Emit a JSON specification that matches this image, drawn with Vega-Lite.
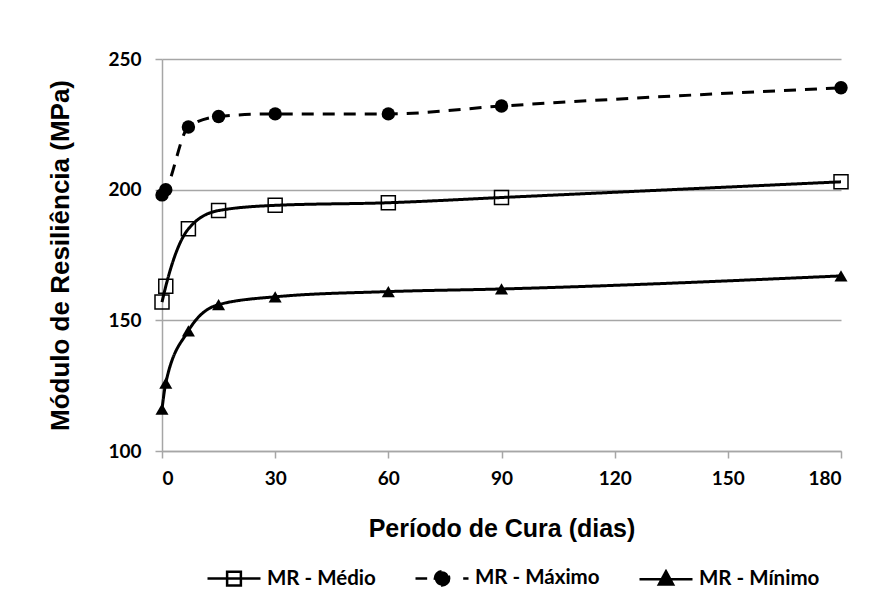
{
  "$schema": "https://vega.github.io/schema/vega-lite/v6.json",
  "width": 679,
  "height": 392,
  "autosize": {"type": "none"},
  "padding": {"left": 162, "top": 59, "right": 29, "bottom": 160},
  "background": "white",
  "config": {"view": {"stroke": null}},
  "data": {
    "values": [
      {"serie": "MR - Médio", "dias": 0, "mr": 157},
      {"serie": "MR - Médio", "dias": 1, "mr": 163},
      {"serie": "MR - Médio", "dias": 7, "mr": 185},
      {"serie": "MR - Médio", "dias": 15, "mr": 192},
      {"serie": "MR - Médio", "dias": 30, "mr": 194},
      {"serie": "MR - Médio", "dias": 60, "mr": 195},
      {"serie": "MR - Médio", "dias": 90, "mr": 197},
      {"serie": "MR - Médio", "dias": 180, "mr": 203},
      {"serie": "MR - Máximo", "dias": 0, "mr": 198},
      {"serie": "MR - Máximo", "dias": 1, "mr": 200},
      {"serie": "MR - Máximo", "dias": 7, "mr": 224},
      {"serie": "MR - Máximo", "dias": 15, "mr": 228},
      {"serie": "MR - Máximo", "dias": 30, "mr": 229},
      {"serie": "MR - Máximo", "dias": 60, "mr": 229},
      {"serie": "MR - Máximo", "dias": 90, "mr": 232},
      {"serie": "MR - Máximo", "dias": 180, "mr": 239},
      {"serie": "MR - Mínimo", "dias": 0, "mr": 116},
      {"serie": "MR - Mínimo", "dias": 1, "mr": 126},
      {"serie": "MR - Mínimo", "dias": 7, "mr": 146},
      {"serie": "MR - Mínimo", "dias": 15, "mr": 156},
      {"serie": "MR - Mínimo", "dias": 30, "mr": 159},
      {"serie": "MR - Mínimo", "dias": 60, "mr": 161},
      {"serie": "MR - Mínimo", "dias": 90, "mr": 162},
      {"serie": "MR - Mínimo", "dias": 180, "mr": 167}
    ]
  },
  "encoding": {
    "x": {
      "field": "dias", "type": "quantitative",
      "scale": {"domain": [0, 180], "nice": false, "zero": false},
      "axis": {
        "title": "Período de Cura (dias)",
        "values": [0, 30, 60, 90, 120, 150, 180],
        "grid": false,
        "domainColor": "#a6a6a6", "domainWidth": 1.5,
        "tickColor": "#a6a6a6", "tickWidth": 1.5, "tickSize": 7,
        "labelFont": "Lato", "labelFontSize": 19, "labelFontWeight": "bold", "labelColor": "black",
        "labelPadding": 11,
        "titleFont": "Liberation Sans", "titleFontSize": 25, "titleFontWeight": "bold", "titleColor": "black",
        "titlePadding": 28
      }
    },
    "y": {
      "field": "mr", "type": "quantitative",
      "scale": {"domain": [100, 250], "nice": false, "zero": false},
      "axis": {
        "title": "Módulo de Resiliência (MPa)",
        "values": [100, 150, 200, 250],
        "grid": true, "gridColor": "#a6a6a6", "gridWidth": 1.5,
        "domainColor": "#a6a6a6", "domainWidth": 1.5,
        "tickColor": "#a6a6a6", "tickWidth": 1.5, "tickSize": 7,
        "labelFont": "Lato", "labelFontSize": 19, "labelFontWeight": "bold", "labelColor": "black",
        "labelPadding": 14,
        "titleFont": "Liberation Sans", "titleFontSize": 26, "titleFontWeight": "bold", "titleColor": "black",
        "titlePadding": 34
      }
    }
  },
  "layer": [
    {
      "mark": {"type": "line", "interpolate": "monotone", "strokeWidth": 3},
      "encoding": {
        "color": {
          "field": "serie",
          "scale": {"domain": ["MR - Médio", "MR - Máximo", "MR - Mínimo"], "range": ["black", "black", "black"]},
          "legend": {
            "title": null,
            "orient": "bottom",
            "direction": "horizontal",
            "padding": 44,
            "offset": -35,
            "symbolSize": 2809,
            "symbolStrokeWidth": 2.5,
            "symbolStrokeColor": "black",
            "symbolOpacity": 1,
            "columnPadding": 34,
            "labelOffset": 5,
            "labelFont": "Lato",
            "labelFontSize": 20.5,
            "labelFontWeight": "bold",
            "labelColor": "black"
          }
        },
        "strokeDash": {
          "field": "serie",
          "scale": {"domain": ["MR - Médio", "MR - Máximo", "MR - Mínimo"], "range": [[1, 0], [12, 9], [1, 0]]},
          "legend": null
        }
      }
    },
    {
      "transform": [{"filter": "datum.serie === 'MR - Médio'"}],
      "mark": {"type": "point", "shape": "square", "size": 196, "stroke": "black", "strokeWidth": 1.5, "opacity": 1},
      "encoding": {}
    },
    {
      "transform": [{"filter": "datum.serie === 'MR - Máximo'"}],
      "mark": {"type": "point", "shape": "circle", "size": 180, "filled": true, "color": "black", "opacity": 1},
      "encoding": {}
    },
    {
      "transform": [{"filter": "datum.serie === 'MR - Mínimo'"}],
      "mark": {"type": "point", "shape": "triangle-up", "size": 170, "filled": true, "color": "black", "opacity": 1},
      "encoding": {}
    },
    {
      "transform": [{"filter": "false"}],
      "mark": {"type": "point", "filled": true, "stroke": "black", "strokeWidth": 2.5, "opacity": 1},
      "encoding": {
        "shape": {
          "field": "serie",
          "scale": {
            "domain": ["MR - Médio", "MR - Máximo", "MR - Mínimo"],
            "range": [
              "M-1,0H1M-0.26,-0.26H0.26V0.26H-0.26Z",
              "M-1,0H-0.56M0.8,0H1M0.27,0A0.27,0.27 0 1,1 -0.27,0A0.27,0.27 0 1,1 0.27,0Z",
              "M-1,0H1M0,-0.3L0.27,0.2H-0.27Z"
            ]
          },
          "legend": null
        },
        "fill": {
          "field": "serie",
          "scale": {"domain": ["MR - Médio", "MR - Máximo", "MR - Mínimo"], "range": ["transparent", "black", "black"]},
          "legend": null
        }
      }
    }
  ]
}
